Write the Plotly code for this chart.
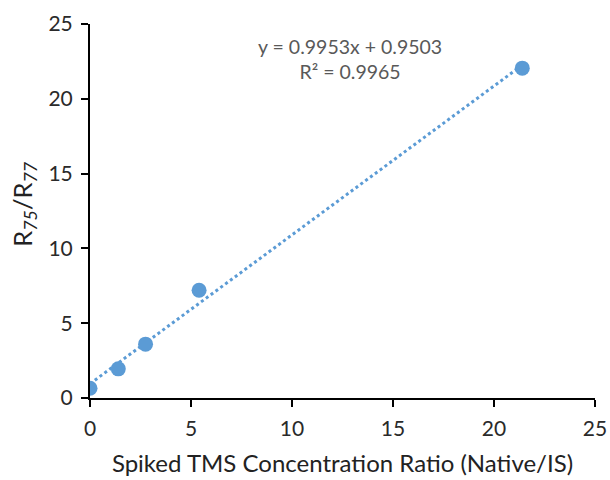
import plotly.graph_objects as go
import numpy as np

# Data
x_ratio = [0.0, 1.4, 2.75, 5.4, 21.4]
y_ratio = [0.65, 1.95, 3.6, 7.2, 22.05]

# Trendline coefficients as printed
slope = 0.9953
intercept = 0.9503
r2 = 0.9965

x_ticks = [0, 5, 10, 15, 20, 25]
y_ticks = [0, 5, 10, 15, 20, 25]

x_title = "Spiked TMS Concentration Ratio (Native/IS)"
y_title = "R<sub><i>75</i></sub>/R<sub><i>77</i></sub>"

blue = "#5B9BD5"
font_family = "Lato, Open Sans, sans-serif"

fit_x = np.array([min(x_ratio), max(x_ratio)])
fit_y = slope * fit_x + intercept

fig = go.Figure()
fig.add_trace(go.Scatter(x=fit_x, y=fit_y, mode="lines",
                         line=dict(color=blue, width=3, dash="dot"),
                         hoverinfo="skip", showlegend=False))
fig.add_trace(go.Scatter(x=x_ratio, y=y_ratio, mode="markers",
                         marker=dict(color=blue, size=15),
                         showlegend=False))

fig.add_annotation(x=0.515, y=0.977, xref="paper", yref="paper",
                   text=f"y = {slope}x + {intercept}<br>R² = {r2}",
                   showarrow=False, align="center", yanchor="top",
                   font=dict(family=font_family, size=19.5, color="#595959"))

# y-axis title as rotated annotation
fig.add_annotation(x=-0.131, y=0.519, xref="paper", yref="paper",
                   text=y_title, textangle=-90, showarrow=False,
                   xanchor="center", yanchor="middle",
                   font=dict(family=font_family, size=25.5, color="#222222"))

axis_common = dict(showgrid=False, zeroline=False, showline=True,
                   linecolor="black", linewidth=2, ticks="outside",
                   ticklen=7, tickwidth=2, tickcolor="black",
                   ticklabelstandoff=4, automargin=False,
                   ticklabeloverflow="allow",
                   tickfont=dict(family=font_family, size=21, color="#2a2a2a"))

fig.update_xaxes(range=[0, 25], tickvals=x_ticks,
                 title=dict(text=x_title,
                            font=dict(family=font_family, size=24, color="#222222"),
                            standoff=16),
                 **axis_common)
fig.update_yaxes(range=[0, 25], tickvals=y_ticks, **axis_common)

fig.update_layout(width=610, height=480,
                  margin=dict(l=90, r=15, t=24, b=82),
                  plot_bgcolor="white", paper_bgcolor="white")

# remove the default 8px page margin so the figure fills the window exactly
fig.write_html("out.html", config={"displayModeBar": False},
               post_script="document.body.style.margin='0';document.body.style.overflow='hidden';")
